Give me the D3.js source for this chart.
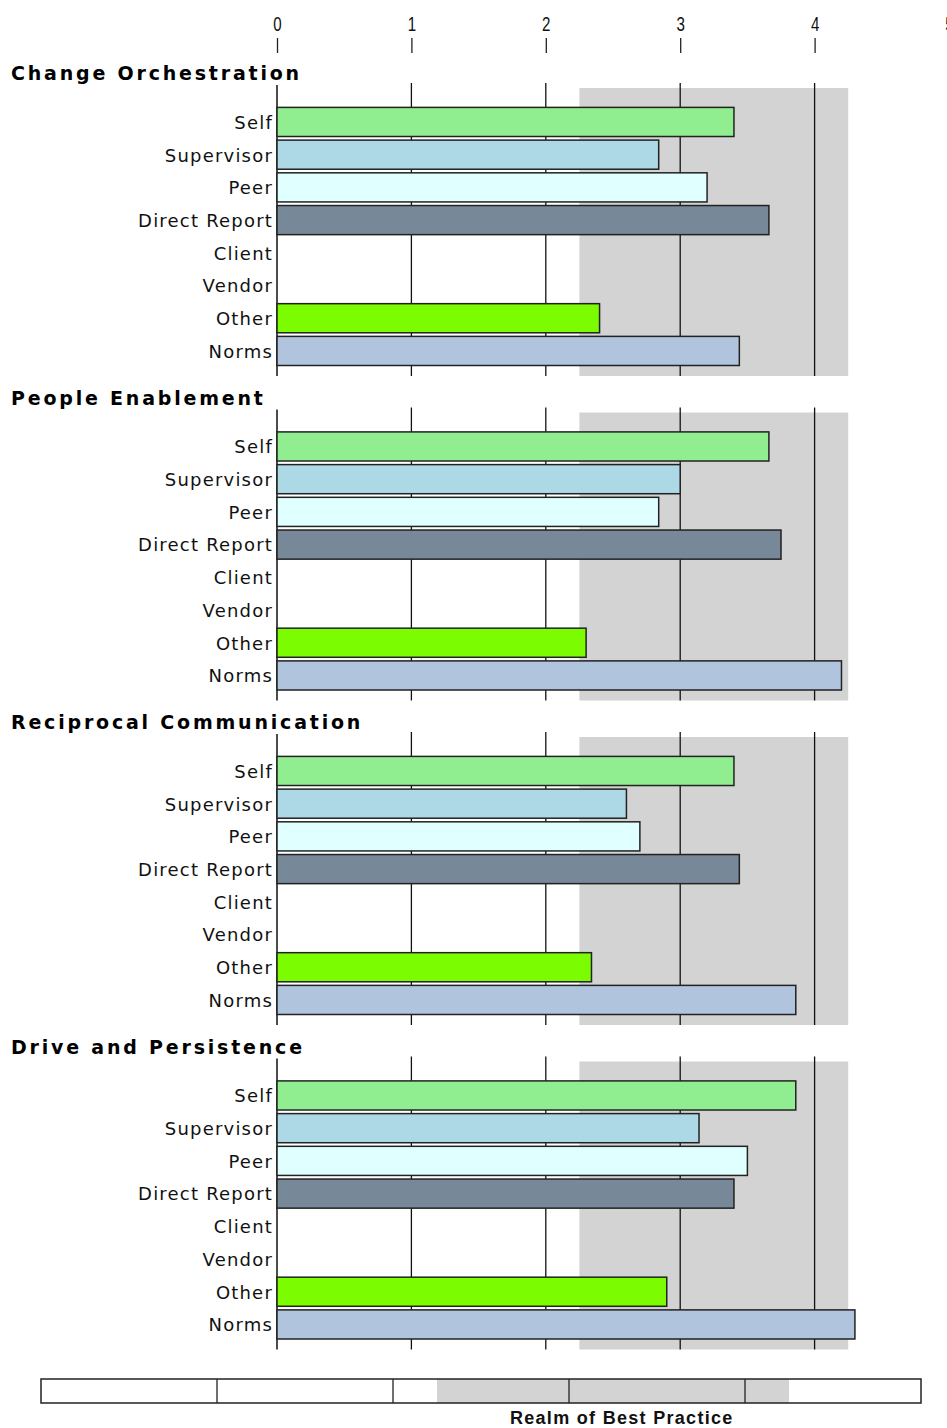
<!DOCTYPE html>
<meta charset="utf-8">
<style>
body { margin: 0; background: #fff; }
.title { font-family: "DejaVu Sans", sans-serif; font-weight: bold; font-size: 19px; letter-spacing: 2.8px; }
.rater { font-family: "DejaVu Sans", sans-serif; font-size: 18px; letter-spacing: 1.2px; fill: #111; }
.axis text { font-family: "Liberation Sans Narrow", "Liberation Sans", sans-serif; font-size: 21px; fill: #111; }
.realm { font-family: "Liberation Sans", sans-serif; font-weight: bold; font-size: 18px; letter-spacing: 1.3px; fill: #111; }
</style>
<body>
<script src="https://d3js.org/d3.v7.min.js"></script>
<script>

var width = 947,
    height = 1428;

// categories
var sections = ["Change Orchestration", "People Enablement", "Reciprocal Communication", "Drive and Persistence"];
var raters = ["Self", "Supervisor", "Peer", "Direct Report", "Client", "Vendor", "Other", "Norms"];
var raterColors = ["#90ee90", "#add8e6", "#e0ffff", "#778899", "#fff", "#fff", "#7cfc00", "#b0c4de"];

// scores per rater, one value per section (null = no rating)
var selfScores = [3.40, 3.66, 3.40, 3.86];
var supervisorScores = [2.84, 3.00, 2.60, 3.14];
var peerScores = [3.20, 2.84, 2.70, 3.50];
var directReportScores = [3.66, 3.75, 3.44, 3.40];
var clientScores = [null, null, null, null];
var vendorScores = [null, null, null, null];
var otherScores = [2.40, 2.30, 2.34, 2.90];
var normScores = [3.44, 4.20, 3.86, 4.30];

var xTicks = [0, 1, 2, 3, 4, 5];
var bestPractice = [2.25, 4.25];
var realmLabel = "Realm of Best Practice";

var scoreTable = [selfScores, supervisorScores, peerScores, directReportScores,
                  clientScores, vendorScores, otherScores, normScores];

var svg = d3.select("body").append("svg")
    .attr("width", width)
    .attr("height", height);

var x = d3.scaleLinear().domain([0, 5]).range([277, 949]);

var sectionStep = 324.5;

var y = d3.scaleBand()
    .domain(raters)
    .range([105.6, 367.3])
    .paddingInner(0.11)
    .paddingOuter(0.055);

// top axis
var axis = svg.append("g")
    .attr("class", "axis")
    .attr("transform", "translate(0,53)")
    .call(d3.axisTop(x).tickValues(xTicks).tickFormat(d3.format("d")).tickSize(15).tickPadding(7));
axis.select(".domain").remove();
axis.selectAll("line").attr("stroke", "#222").attr("stroke-width", 1.3);
axis.selectAll("text").attr("transform", "scale(0.72,1)");

sections.forEach(function(name, i) {
  var g = svg.append("g").attr("transform", "translate(0," + (i * sectionStep) + ")");

  g.append("text")
    .attr("class", "title")
    .attr("x", 11)
    .attr("y", 80)
    .text(name);

  // realm of best practice band
  g.append("rect")
    .attr("x", x(bestPractice[0]))
    .attr("y", 88)
    .attr("width", x(bestPractice[1]) - x(bestPractice[0]))
    .attr("height", 288)
    .attr("fill", "#d3d3d3");

  // gridlines
  g.selectAll(".grid")
    .data(xTicks.filter(function(d) { return d > 0 && d < 5; }))
    .enter().append("line")
    .attr("x1", function(d) { return x(d); })
    .attr("x2", function(d) { return x(d); })
    .attr("y1", 83)
    .attr("y2", 376)
    .attr("stroke", "#111")
    .attr("stroke-width", 1.3);

  g.append("line")
    .attr("x1", x(0)).attr("x2", x(0))
    .attr("y1", 85).attr("y2", 376)
    .attr("stroke", "#111")
    .attr("stroke-width", 1.5);

  var rows = raters.map(function(r, j) {
    return { rater: r, value: scoreTable[j][i], color: raterColors[j] };
  });

  g.selectAll(".bar")
    .data(rows.filter(function(d) { return d.value != null; }))
    .enter().append("rect")
    .attr("x", x(0))
    .attr("y", function(d) { return y(d.rater); })
    .attr("width", function(d) { return x(d.value) - x(0); })
    .attr("height", y.bandwidth())
    .attr("fill", function(d) { return d.color; })
    .attr("stroke", "#222")
    .attr("stroke-width", 1.5);

  g.selectAll(".rater")
    .data(rows)
    .enter().append("text")
    .attr("class", "rater")
    .attr("x", x(0) - 4)
    .attr("y", function(d) { return y(d.rater) + y.bandwidth() / 2; })
    .attr("dy", "0.38em")
    .attr("text-anchor", "end")
    .text(function(d) { return d.rater; });
});

// bottom legend bar
var lx = d3.scaleLinear().domain([0, 5]).range([41, 921]);
var legend = svg.append("g");

legend.append("rect")
  .attr("x", lx(bestPractice[0]))
  .attr("y", 1379)
  .attr("width", lx(bestPractice[1]) - lx(bestPractice[0]))
  .attr("height", 24)
  .attr("fill", "#d3d3d3");

legend.selectAll(".div")
  .data([1, 2, 3, 4])
  .enter().append("line")
  .attr("x1", function(d) { return lx(d); })
  .attr("x2", function(d) { return lx(d); })
  .attr("y1", 1379)
  .attr("y2", 1403)
  .attr("stroke", "#222")
  .attr("stroke-width", 1.3);

legend.append("rect")
  .attr("x", lx(0))
  .attr("y", 1379)
  .attr("width", lx(5) - lx(0))
  .attr("height", 24)
  .attr("fill", "none")
  .attr("stroke", "#222")
  .attr("stroke-width", 1.5);

legend.append("text")
  .attr("class", "realm")
  .attr("x", lx(3.3))
  .attr("y", 1424)
  .attr("text-anchor", "middle")
  .text(realmLabel);

</script>
